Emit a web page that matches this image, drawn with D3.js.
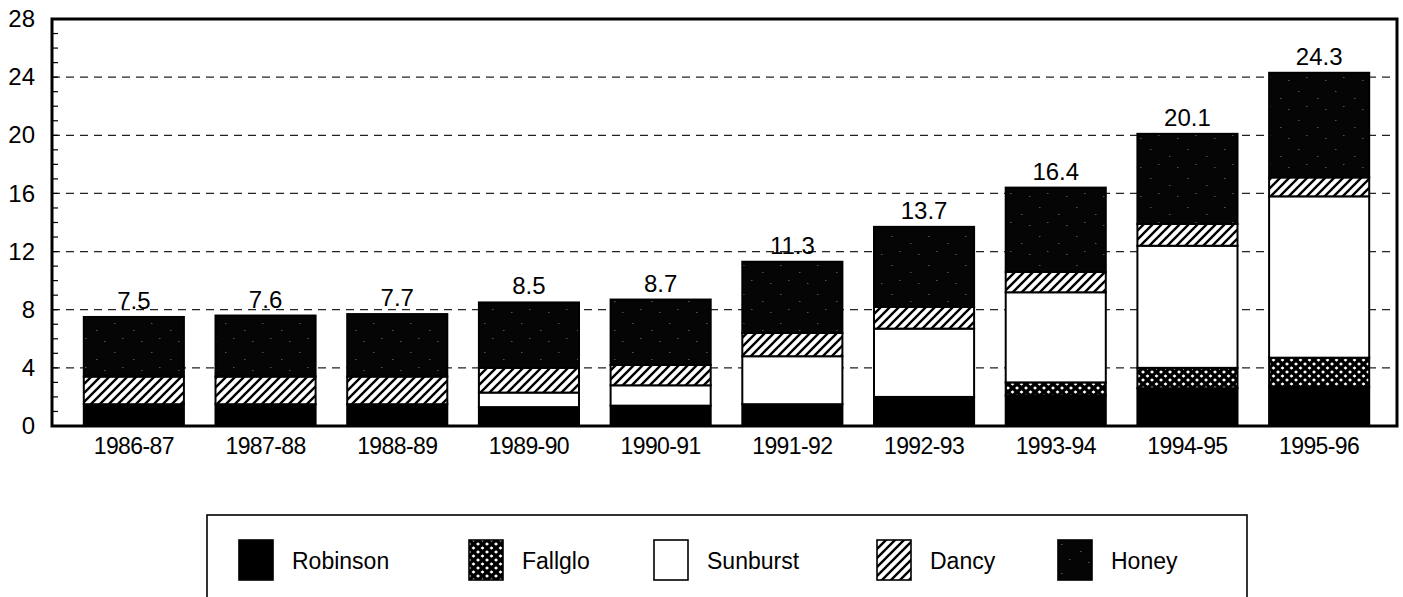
<!DOCTYPE html>
<html>
<head>
<meta charset="utf-8">
<script src="https://cdn.jsdelivr.net/npm/d3@7"></script>
<style>
  html, body { margin: 0; padding: 0; background: #fff; }
  svg { display: block; font-family: "Liberation Sans", Arial, sans-serif; }
</style>
</head>
<body>
<svg id="chart" width="1403" height="597"></svg>
<script>
// data (millions of boxes, stacked bottom to top)
const seasons  = ["1986-87","1987-88","1988-89","1989-90","1990-91","1991-92","1992-93","1993-94","1994-95","1995-96"];
const robinson = [1.5, 1.5, 1.5, 1.3, 1.4, 1.5, 2.0, 2.1, 2.6, 2.7];
const fallglo  = [0,   0,   0,   0,   0,   0,   0,   0.9, 1.4, 2.0];
const sunburst = [0,   0,   0,   1.0, 1.4, 3.3, 4.7, 6.2, 8.4, 11.1];
const dancy    = [1.9, 1.9, 1.9, 1.7, 1.4, 1.6, 1.5, 1.4, 1.5, 1.3];
const honey    = [4.1, 4.2, 4.3, 4.5, 4.5, 4.9, 5.5, 5.8, 6.2, 7.2];
const yTicks   = [0, 4, 8, 12, 16, 20, 24, 28];
const varieties = ["Robinson", "Fallglo", "Sunburst", "Dancy", "Honey"];

const svg = d3.select("#chart");

// plot frame
const plotLeft = 52, plotRight = 1397, plotTop = 19, plotBottom = 426;

const table = seasons.map((s, i) => ({
  season: s,
  Robinson: robinson[i], Fallglo: fallglo[i], Sunburst: sunburst[i],
  Dancy: dancy[i], Honey: honey[i]
}));

const x = d3.scaleBand().domain(seasons).range([68, 1385])
  .paddingInner(0.24).paddingOuter(0.12);
const y = d3.scaleLinear().domain([0, 28]).range([plotBottom, plotTop]);

// patterns
const defs = svg.append("defs");

const hatch = defs.append("pattern").attr("id", "p-dancy")
  .attr("patternUnits", "userSpaceOnUse").attr("width", 9).attr("height", 9);
hatch.append("rect").attr("width", 9).attr("height", 9).attr("fill", "#fff");
hatch.append("path").attr("d", "M-1,1 L1,-1 M0,9 L9,0 M8,10 L10,8")
  .attr("stroke", "#000").attr("stroke-width", 2.4);

const cross = defs.append("pattern").attr("id", "p-fallglo")
  .attr("patternUnits", "userSpaceOnUse").attr("width", 9).attr("height", 8);
cross.append("rect").attr("width", 9).attr("height", 8).attr("fill", "#fff");
cross.append("path").attr("d", "M0,0 L9,8 M9,0 L0,8")
  .attr("stroke", "#000").attr("stroke-width", 3.4);

const speck = defs.append("pattern").attr("id", "p-honey")
  .attr("patternUnits", "userSpaceOnUse").attr("width", 37).attr("height", 29);
speck.append("rect").attr("width", 37).attr("height", 29).attr("fill", "#050505");
[[3, 4], [22, 11], [30, 22], [11, 19]].forEach(([a, b]) =>
  speck.append("rect").attr("x", a).attr("y", b).attr("width", 1.5).attr("height", 1)
    .attr("fill", "#555"));

const fills = {
  Robinson: "#000",
  Fallglo: "url(#p-fallglo)",
  Sunburst: "#fff",
  Dancy: "url(#p-dancy)",
  Honey: "url(#p-honey)"
};

// dashed gridlines
svg.append("g")
  .selectAll("line")
  .data(yTicks.filter(t => t > 0 && t < 28))
  .enter().append("line")
    .attr("x1", plotLeft).attr("x2", plotRight)
    .attr("y1", d => y(d)).attr("y2", d => y(d))
    .attr("stroke", "#222").attr("stroke-width", 1.3)
    .attr("stroke-dasharray", "8,6");

// stacked bars
const series = d3.stack().keys(varieties)(table);

svg.append("g")
  .selectAll("g")
  .data(series)
  .enter().append("g")
    .attr("fill", d => fills[d.key])
  .selectAll("rect")
  .data(d => d.filter(p => p[1] - p[0] > 0))
  .enter().append("rect")
    .attr("x", d => x(d.data.season))
    .attr("width", x.bandwidth())
    .attr("y", d => y(d[1]))
    .attr("height", d => y(d[0]) - y(d[1]))
    .attr("stroke", "#000")
    .attr("stroke-width", 2);

// totals on top
const fmt = d3.format(".1f");
svg.append("g")
  .selectAll("text")
  .data(table)
  .enter().append("text")
    .attr("x", d => x(d.season) + x.bandwidth() / 2)
    .attr("y", d => y(d3.sum(varieties, k => d[k])) - 8)
    .attr("text-anchor", "middle")
    .attr("font-size", 24)
    .text(d => fmt(d3.sum(varieties, k => d[k])));

// frame
svg.append("rect")
  .attr("x", plotLeft).attr("y", plotTop)
  .attr("width", plotRight - plotLeft).attr("height", plotBottom - plotTop)
  .attr("fill", "none").attr("stroke", "#000").attr("stroke-width", 3);

// y axis: labels and inward minor ticks
const yAxis = d3.axisLeft(y).tickValues(yTicks).tickSize(0).tickPadding(17);
const ya = svg.append("g").attr("transform", `translate(${plotLeft},0)`).call(yAxis);
ya.select(".domain").remove();
ya.selectAll("text").attr("font-size", 24).attr("font-family", null).attr("fill", "#000");

svg.append("g")
  .selectAll("line")
  .data(d3.range(1, 28))
  .enter().append("line")
    .attr("x1", plotLeft).attr("x2", plotLeft + 6)
    .attr("y1", d => y(d)).attr("y2", d => y(d))
    .attr("stroke", "#000").attr("stroke-width", 1.2);

// x axis labels
const xAxis = d3.axisBottom(x).tickSize(0).tickPadding(12);
const xa = svg.append("g").attr("transform", `translate(0,${plotBottom})`).call(xAxis);
xa.select(".domain").remove();
xa.selectAll("text").attr("font-size", 23).attr("font-family", null)
  .attr("fill", "#000").attr("letter-spacing", -0.6);

// legend
const legendX = [239, 469, 654, 877, 1058];
const legend = svg.append("g");
legend.append("rect")
  .attr("x", 207).attr("y", 515).attr("width", 1040).attr("height", 120)
  .attr("fill", "none").attr("stroke", "#000").attr("stroke-width", 1.6);

const item = legend.selectAll("g.item")
  .data(varieties)
  .enter().append("g")
    .attr("class", "item")
    .attr("transform", (d, i) => `translate(${legendX[i]},540)`);

item.append("rect")
  .attr("width", 34).attr("height", 40)
  .attr("fill", d => fills[d])
  .attr("stroke", "#000").attr("stroke-width", 1.6);

item.append("text")
  .attr("x", 53).attr("y", 29)
  .attr("font-size", 23)
  .text(d => d);
</script>
</body>
</html>
